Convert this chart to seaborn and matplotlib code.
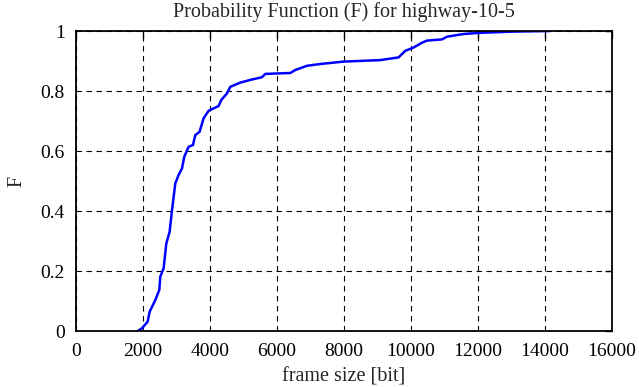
import matplotlib
matplotlib.use("Agg")
import matplotlib.pyplot as plt
import seaborn as sns
import pandas as pd

frame_size = [1839, 1970, 2138, 2197, 2367, 2487, 2516, 2615, 2696, 2795, 2866, 2964,
              3063, 3164, 3233, 3361, 3492, 3561, 3689, 3809, 3958, 4257, 4337, 4507,
              4606, 4904, 5203, 5552, 5651, 6397, 6546, 6895, 7293, 7990, 9083, 9630,
              9830, 10078, 10328, 10478, 10925, 11075, 11572, 12070, 13065, 14150]
cdf = [0.0, 0.009, 0.031, 0.064, 0.103, 0.137, 0.181, 0.209, 0.292, 0.331, 0.403, 0.492,
       0.520, 0.542, 0.581, 0.614, 0.620, 0.653, 0.664, 0.709, 0.734, 0.750, 0.770, 0.792,
       0.814, 0.828, 0.837, 0.846, 0.857, 0.860, 0.870, 0.884, 0.890, 0.898, 0.903, 0.912,
       0.934, 0.945, 0.961, 0.968, 0.972, 0.981, 0.990, 0.994, 0.998, 1.0]

x_ticks = [0, 2000, 4000, 6000, 8000, 10000, 12000, 14000, 16000]
y_ticks = [0, 0.2, 0.4, 0.6, 0.8, 1.0]
y_labels = ["0", "0.2", "0.4", "0.6", "0.8", "1"]

sns.set_style("white")
plt.rcParams['font.family'] = ['Liberation Serif', 'DejaVu Serif']

df = pd.DataFrame({"frame size [bit]": frame_size, "F": cdf})

fig = plt.figure(figsize=(6.39, 3.87), dpi=100)
ax = fig.add_axes([76/639, 1-331/387, (612-76)/639, 300/387])

sns.lineplot(data=df, x="frame size [bit]", y="F", ax=ax, color="#0000ff",
             linewidth=1.8, estimator=None, sort=False)

ax.set_xlim(0, 16000)
ax.set_ylim(0, 1)
ax.set_xticks(x_ticks)
ax.set_xticklabels([str(t) for t in x_ticks])
ax.set_yticks(y_ticks)
ax.set_yticklabels(y_labels)
ax.grid(True, color="black", linestyle=(0, (5, 4)), linewidth=0.8)
for s in ax.spines.values():
    s.set_visible(True)
    s.set_color("black")
    s.set_linewidth(1.3)
ax.tick_params(direction="in", length=5, width=1, top=True, right=True,
               labelsize=14, colors="black")
ax.tick_params(axis="x", pad=9)
ax.tick_params(axis="y", pad=8)
ax.set_xlabel("frame size [bit]", fontsize=14.5, labelpad=5)
ax.set_ylabel("F", fontsize=14.5, labelpad=10)
ax.set_title("Probability Function (F) for highway-10-5", fontsize=14.5, pad=10)

fig.savefig("out.png", dpi=100)
